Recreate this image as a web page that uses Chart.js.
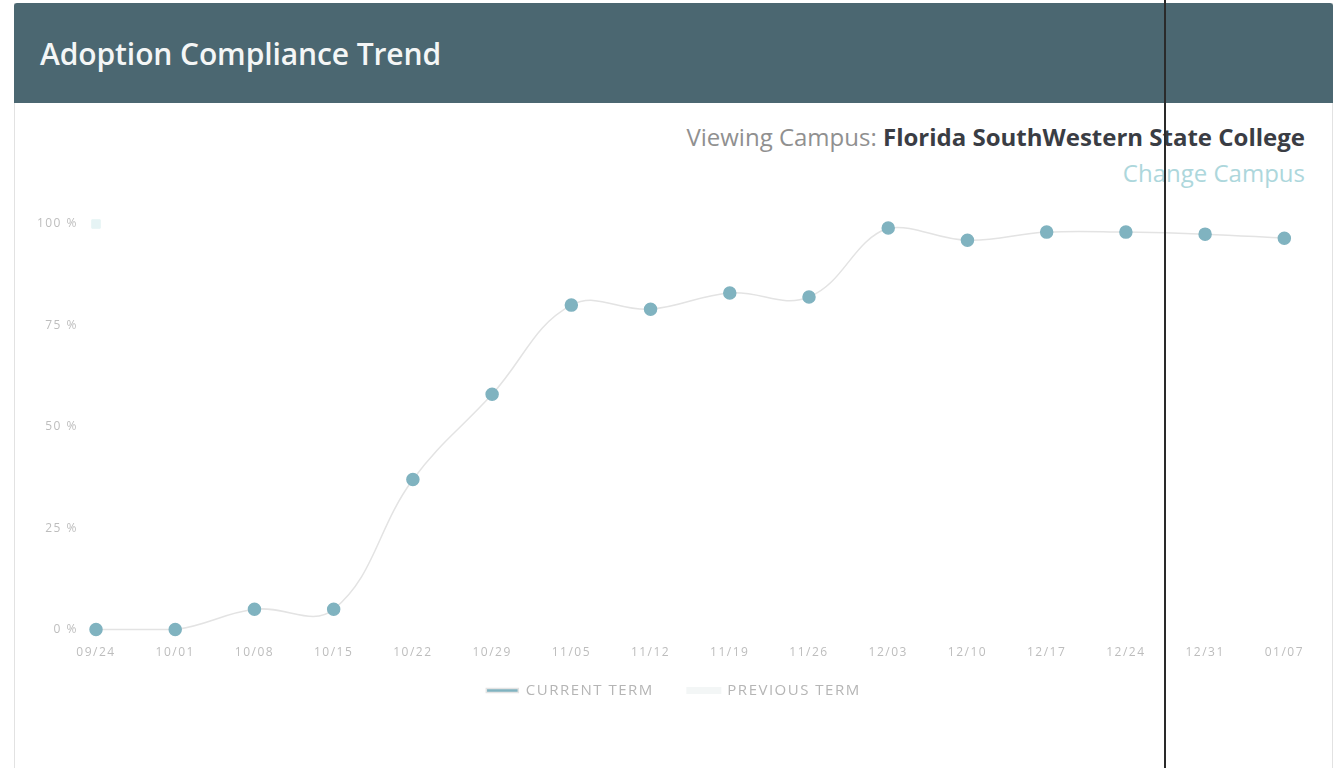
<!DOCTYPE html>
<html>
<head>
<meta charset="utf-8">
<script src="https://cdn.jsdelivr.net/npm/chart.js@4.4.1/dist/chart.umd.min.js"></script>
<style>
  body { margin: 0; background: #fff; font-family: "Open Sans", sans-serif; overflow: hidden; }
  #card { position: absolute; left: 14px; top: 3px; width: 1317px; height: 780px; border: 1px solid #e2e2e2; border-top: none; }
  #head { position: absolute; left: 14px; top: 3px; width: 1319px; height: 100px; background: #4b6771; border-radius: 3px 3px 0 0; }
  #head h1 { margin: 0; position: absolute; left: 26px; top: 30px; font-size: 30px; font-weight: 600; color: #f4f6f6; letter-spacing: -0.1px; }
  #campus { position: absolute; right: 36px; top: 119px; text-align: right; font-size: 24px; line-height: 36px; }
  #campus .lbl { color: #909090; }
  #campus b { color: #3a3d44; font-weight: 700; }
  #campus .chg { color: #add7dc; }
  #chartBox { position: absolute; left: 20px; top: 195px; width: 1300px; height: 520px; }
  #scanline { position: absolute; left: 1164px; top: 0; width: 2px; height: 768px; background: #2a2a2a; }
</style>
</head>
<body>
<div id="card"></div>
<div id="head"><h1>Adoption Compliance Trend</h1></div>
<div id="campus">
  <div><span class="lbl">Viewing Campus: </span><b>Florida SouthWestern State College</b></div>
  <div class="chg">Change Campus</div>
</div>
<div id="chartBox"><canvas id="trend" width="1300" height="520"></canvas></div>
<div id="scanline"></div>
<script>
const weeks = ['09/24', '10/01', '10/08', '10/15', '10/22', '10/29', '11/05', '11/12', '11/19', '11/26', '12/03', '12/10', '12/17', '12/24', '12/31', '01/07'];
const currentTerm = [0, 0, 5, 5, 37, 58, 80, 79, 83, 82, 99, 96, 98, 98, 97.5, 96.5];
const previousTerm = [100, null, null, null, null, null, null, null, null, null, null, null, null, null, null, null];
const yTicks = [0, 25, 50, 75, 100];

// letter spacing for canvas text (labels in the original are spaced out),
// and nudge the legend a little to the right like the original
const tweaks = {
    id: 'tweaks',
    beforeUpdate(chart) { chart.ctx.letterSpacing = '1.5px'; },
    afterLayout(chart) {
        chart.legend.left += 19;
        chart.legend.right += 19;
    }
};

new Chart(document.getElementById('trend'), {
    type: 'line',
    data: {
        labels: weeks,
        datasets: [
            {
                label: 'CURRENT TERM',
                data: currentTerm,
                borderColor: '#e3e3e3',
                borderWidth: 1.5,
                backgroundColor: '#80b3c0',
                pointBackgroundColor: '#80b3c0',
                pointBorderColor: '#80b3c0',
                pointRadius: 6,
                tension: 0.4,
                clip: false
            },
            {
                label: 'PREVIOUS TERM',
                data: previousTerm,
                borderColor: '#f3f6f6',
                backgroundColor: '#f3f6f6',
                pointBackgroundColor: '#e6f4f5',
                pointBorderColor: '#e6f4f5',
                pointStyle: 'rect',
                pointRadius: 6,
                tension: 0.4,
                clip: false
            }
        ]
    },
    options: {
        responsive: false,
        animation: false,
        layout: { padding: { top: 29, right: 31, left: 0, bottom: 7 } },
        scales: {
            x: {
                grid: { display: false, drawTicks: false },
                border: { display: false },
                ticks: { color: '#bdbdbd', font: { family: 'Open Sans', size: 12 }, padding: 16, maxRotation: 0, autoSkip: false }
            },
            y: {
                min: 0,
                max: 100,
                grid: { display: false, drawTicks: false },
                border: { display: false },
                afterBuildTicks(s) { s.ticks = yTicks.map(v => ({ value: v })); },
                ticks: {
                    color: '#bdbdbd',
                    font: { family: 'Open Sans', size: 12 },
                    padding: 18,
                    callback: v => v + ' %'
                },
                afterFit(s) { s.width = 76; }
            }
        },
        plugins: {
            legend: {
                position: 'bottom',
                labels: {
                    boxWidth: 32,
                    boxHeight: 4,
                    padding: 7,
                    color: '#b5b5b5',
                    font: { family: 'Open Sans', size: 15 },
                    // wider gap after the first item
                    generateLabels(chart) {
                        const items = Chart.defaults.plugins.legend.labels.generateLabels(chart);
                        items[0].text += '     ';
                        return items;
                    }
                }
            },
            tooltip: { enabled: false }
        }
    },
    plugins: [tweaks]
});
</script>
</body>
</html>
